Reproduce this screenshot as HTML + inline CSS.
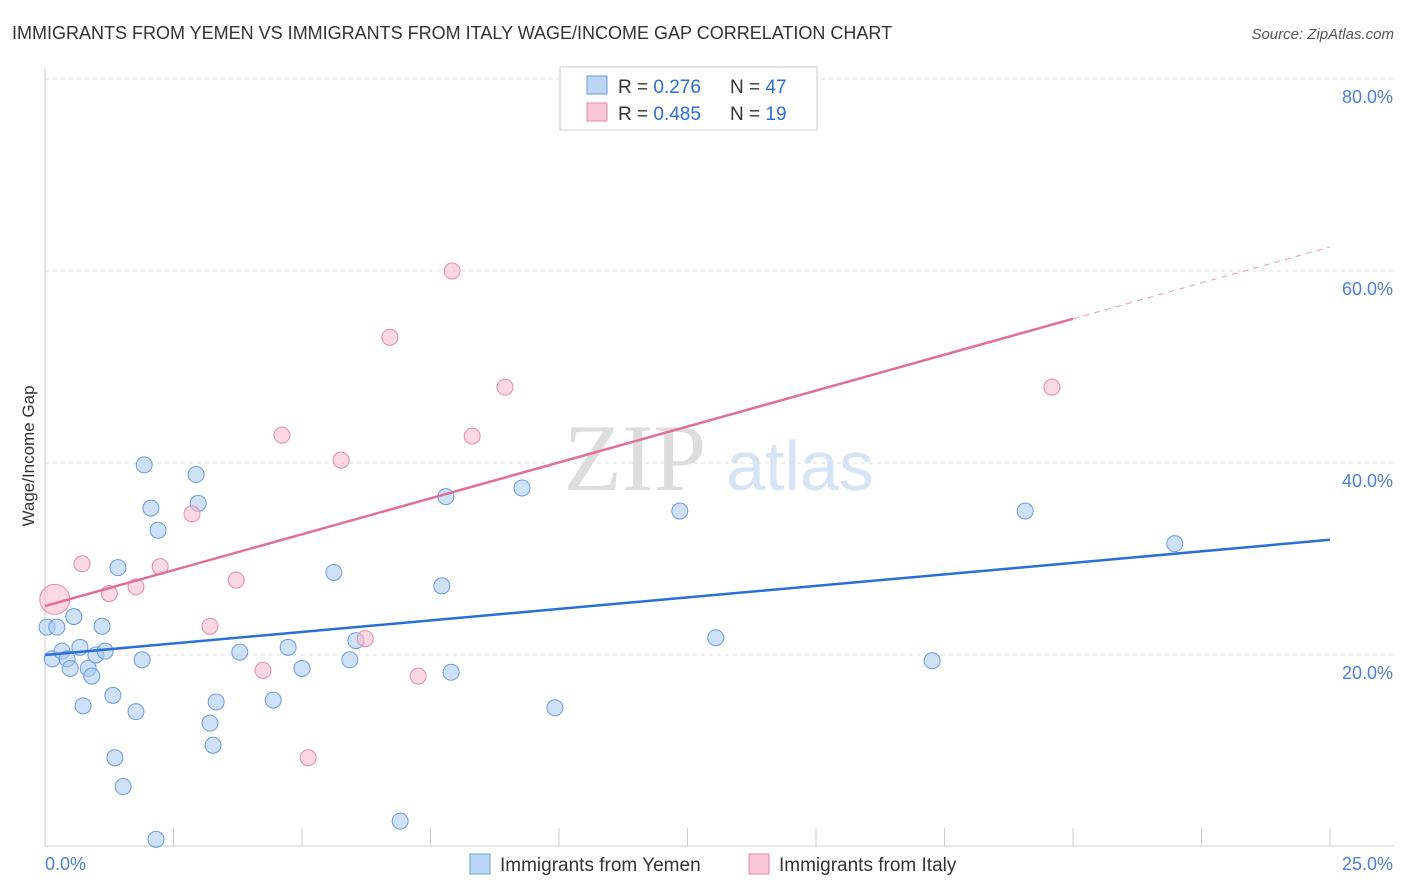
<!DOCTYPE html>
<html><head><meta charset="utf-8"><style>
body{margin:0;background:#fff;font-family:"Liberation Sans",sans-serif}
svg{display:block}
</style></head><body>
<svg id="c" width="1406" height="892">
<text x="12" y="39" font-size="18" fill="#333">IMMIGRANTS FROM YEMEN VS IMMIGRANTS FROM ITALY WAGE/INCOME GAP CORRELATION CHART</text>
<text x="1394" y="39" font-size="15" fill="#555" font-style="italic" text-anchor="end">Source: ZipAtlas.com</text>
<g>
<text x="635" y="490" font-size="95" fill="#ddd" font-family="Liberation Serif,serif" text-anchor="middle">ZIP</text>
<text x="800" y="490" font-size="70" fill="#d6e4f5" text-anchor="middle">atlas</text>
</g>
<text transform="translate(34,456) rotate(-90)" font-size="17" fill="#333" text-anchor="middle">Wage/Income Gap</text>
<g id="grid"></g><g id="marks"></g>
<g>
<rect x="560" y="67" width="257" height="63" fill="#fff" stroke="#ccc"/>
<rect x="587" y="76" width="20" height="18" fill="#bcd5f5" stroke="#6a9be0"/>
<rect x="587" y="103" width="20" height="18" fill="#f9c7d6" stroke="#e88aa8"/>
<text x="618" y="93" font-size="19" fill="#333">R = <tspan fill="#2a6fd6"> 0.276</tspan><tspan x="730">N = </tspan><tspan fill="#2a6fd6"> 47</tspan></text>
<text x="618" y="120" font-size="19" fill="#333">R = <tspan fill="#2a6fd6">0.485</tspan><tspan x="730">N = </tspan><tspan fill="#2a6fd6"> 19</tspan></text>
</g>
<g>
<rect x="470" y="854" width="20" height="20" fill="#bcd5f5" stroke="#6a9be0"/>
<text x="500" y="871" font-size="19" fill="#333">Immigrants from Yemen</text>
<rect x="749" y="854" width="20" height="20" fill="#f9c7d6" stroke="#e88aa8"/>
<text x="779" y="871" font-size="19" fill="#333">Immigrants from Italy</text>
</g>
</svg>
<script>
const yTicks=[20,40,60,80];
const xTickLabels=["0.0%","25.0%"];
const yemenX=[0.04,0.23,0.14,0.33,0.43,0.49,0.56,0.68,0.74,0.84,0.91,0.99,1.11,1.17,1.32,1.36,1.42,1.52,1.77,1.89,1.93,2.06,2.16,2.20,2.94,2.98,3.21,3.27,3.33,3.79,4.44,4.73,5.00,5.62,5.93,6.05,6.91,7.72,7.80,7.90,9.28,9.92,12.35,13.05,17.26,19.07,21.98];
const yemenY=[22.9,22.9,19.6,20.4,19.6,18.6,24.0,20.8,14.7,18.6,17.8,20.0,23.0,20.4,15.8,9.3,29.1,6.3,14.1,19.5,39.8,35.3,0.8,33.0,38.8,35.8,12.9,10.6,15.1,20.3,15.3,20.8,18.6,28.6,19.5,21.5,2.7,27.2,36.5,18.2,37.4,14.5,35.0,21.8,19.4,35.0,31.6];
const italyX=[0.19,0.72,1.25,1.77,2.24,2.86,3.21,3.72,4.24,4.61,5.12,5.76,6.23,6.71,7.26,7.92,8.31,8.95,19.59];
const italyY=[25.8,29.5,26.4,27.1,29.2,34.7,23.0,27.8,18.4,42.9,9.3,40.3,21.7,53.1,17.8,60.0,42.8,47.9,47.9];
const yemenLine=[20.0,32.0];
const italyLine=[25.1,62.5];
const italySolidEnd=20;
const NS="http://www.w3.org/2000/svg";
const sx=v=>45+v/25*1285, sy=v=>847-v*9.6;
function mk(t,a,p){const e=document.createElementNS(NS,t);for(const k in a)e.setAttribute(k,a[k]);p.appendChild(e);return e;}
const g=document.getElementById('grid'), m=document.getElementById('marks');
yTicks.forEach(t=>{
 const l=mk('line',{x1:45,x2:1394,y1:sy(t),y2:sy(t),stroke:'#ddd','stroke-dasharray':'4,4'},g);
 
 
 const tx=mk('text',{x:1393,y:sy(t)+24,'font-size':18,fill:'#4a7fd4','text-anchor':'end'},g);
 tx.textContent=t.toFixed(1)+'%';
 
 
});
mk('line',{x1:45,x2:45,y1:68,y2:846,stroke:'#ccc'},g);
mk('line',{x1:45,x2:1394,y1:846,y2:846,stroke:'#ccc'},g);
for(let i=1;i<=10;i++){const t=mk('line',{x1:sx(i*2.5),x2:sx(i*2.5),y1:828,y2:846,stroke:'#ccc'},g);
 
 }
[[0,'start',45],[25,'end',1393]].forEach((d,i)=>{const t=mk('text',{x:d[2],y:870,'font-size':18,fill:'#4a7fd4','text-anchor':d[1]},g);t.textContent=xTickLabels[i];
 
 });
yemenX.forEach((x,i)=>{const c=mk('circle',{cx:sx(x),cy:sy(yemenY[i]),r:8,fill:'rgba(168,200,240,0.55)',stroke:'#6a9be0','stroke-width':1},m);
 
 });
italyX.forEach((x,i)=>{const c=mk('circle',{cx:sx(x),cy:sy(italyY[i]),r:i==0?15:8,fill:'rgba(247,184,203,0.55)',stroke:'#e88aa8','stroke-width':1},m);
 
 });
const bl=mk('line',{x1:sx(0),y1:sy(yemenLine[0]),x2:sx(25),y2:sy(yemenLine[1]),stroke:'#2a6fd6','stroke-width':2.5},m);


const iy=x=>italyLine[0]+(italyLine[1]-italyLine[0])*x/25;
const pl=mk('line',{x1:sx(0),y1:sy(iy(0)),x2:sx(italySolidEnd),y2:sy(iy(italySolidEnd)),stroke:'#e0709a','stroke-width':2.5},m);


const pd=mk('line',{x1:sx(italySolidEnd),y1:sy(iy(italySolidEnd)),x2:sx(25),y2:sy(iy(25)),stroke:'#e8a0b8','stroke-width':1,'stroke-dasharray':'6,5'},m);


</script>
</body></html>
